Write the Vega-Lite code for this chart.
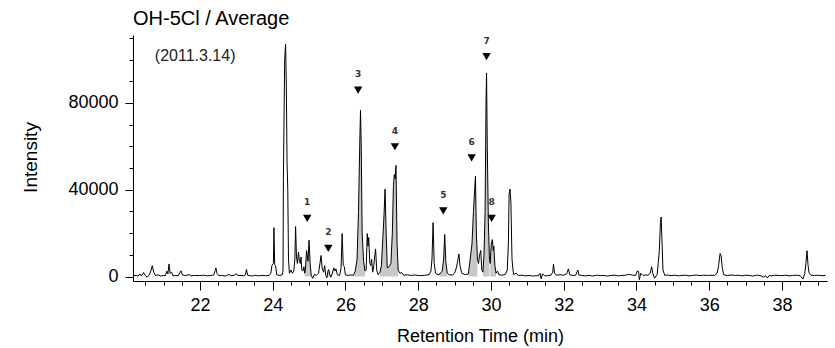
{
  "$schema": "https://vega.github.io/schema/vega-lite/v6.json",
  "width": 694,
  "height": 246,
  "autosize": {"type": "none"},
  "padding": {"left": 133, "top": 35, "right": 8, "bottom": 67},
  "background": "white",
  "config": {
    "view": {"stroke": null},
    "font": "Liberation Sans",
    "axis": {"domainColor": "#000", "tickColor": "#000", "labelColor": "#000", "titleColor": "#000", "grid": false, "titleFontWeight": "normal", "domainWidth": 1, "tickWidth": 1}
  },
  "title": {"text": "OH-5Cl / Average", "anchor": "start", "frame": "group", "font": "Liberation Sans", "fontSize": 20, "fontWeight": "normal", "color": "#000", "offset": 6},
  "datasets": {
    "trace": [
      {"t":20.17,"i":300},{"t":20.25,"i":500},{"t":20.3,"i":200},{"t":20.35,"i":1200},{"t":20.38,"i":300},{"t":20.42,"i":900},{"t":20.45,"i":1800},{"t":20.5,"i":400},{"t":20.55,"i":-300},{"t":20.6,"i":600},{"t":20.65,"i":2500},{"t":20.69,"i":5000},{"t":20.73,"i":2000},{"t":20.78,"i":500},{"t":20.85,"i":800},{"t":20.92,"i":200},{"t":21.0,"i":500},{"t":21.05,"i":400},{"t":21.09,"i":2500},{"t":21.12,"i":1200},{"t":21.15,"i":5800},{"t":21.18,"i":1500},{"t":21.22,"i":2000},{"t":21.26,"i":300},{"t":21.32,"i":500},{"t":21.4,"i":300},{"t":21.45,"i":1800},{"t":21.48,"i":2600},{"t":21.52,"i":700},{"t":21.6,"i":400},{"t":21.7,"i":900},{"t":21.75,"i":300},{"t":21.85,"i":500},{"t":22.0,"i":400},{"t":22.1,"i":600},{"t":22.2,"i":300},{"t":22.3,"i":500},{"t":22.38,"i":700},{"t":22.42,"i":2800},{"t":22.44,"i":3900},{"t":22.47,"i":1500},{"t":22.52,"i":400},{"t":22.6,"i":500},{"t":22.7,"i":200},{"t":22.8,"i":1000},{"t":22.85,"i":300},{"t":22.95,"i":600},{"t":23.0,"i":1300},{"t":23.04,"i":400},{"t":23.1,"i":500},{"t":23.2,"i":300},{"t":23.25,"i":800},{"t":23.28,"i":3300},{"t":23.31,"i":600},{"t":23.38,"i":400},{"t":23.45,"i":200},{"t":23.5,"i":600},{"t":23.6,"i":300},{"t":23.7,"i":500},{"t":23.8,"i":400},{"t":23.9,"i":500},{"t":23.95,"i":1500},{"t":23.98,"i":5200},{"t":24.02,"i":6000},{"t":24.035,"i":22500},{"t":24.055,"i":5500},{"t":24.08,"i":5000},{"t":24.11,"i":800},{"t":24.2,"i":500},{"t":24.27,"i":900},{"t":24.285,"i":3000},{"t":24.295,"i":45000},{"t":24.33,"i":100000},{"t":24.355,"i":107000},{"t":24.375,"i":88000},{"t":24.395,"i":53000},{"t":24.415,"i":40000},{"t":24.435,"i":8000},{"t":24.46,"i":1500},{"t":24.5,"i":3000},{"t":24.54,"i":1500},{"t":24.58,"i":2500},{"t":24.61,"i":8000},{"t":24.63,"i":23000},{"t":24.655,"i":9000},{"t":24.68,"i":6000},{"t":24.71,"i":11300},{"t":24.735,"i":7000},{"t":24.76,"i":6000},{"t":24.78,"i":9000},{"t":24.8,"i":3000},{"t":24.83,"i":2500},{"t":24.86,"i":4500},
      {"t":24.88,"i":1500,"g":"p1"},{"t":24.9,"i":3000,"g":"p1"},{"t":24.93,"i":12000,"g":"p1"},{"t":24.95,"i":10000,"g":"p1"},{"t":24.97,"i":7000,"g":"p1"},{"t":25.0,"i":16700,"g":"p1"},{"t":25.03,"i":6000,"g":"p1"},{"t":25.06,"i":600,"g":"p1"},
      {"t":25.1,"i":-800},{"t":25.15,"i":1000},{"t":25.2,"i":500},{"t":25.26,"i":1500},{"t":25.3,"i":6000},{"t":25.33,"i":9700},{"t":25.36,"i":4000},{"t":25.4,"i":2000},{"t":25.43,"i":5000},
      {"t":25.46,"i":500,"g":"p2"},{"t":25.49,"i":-600,"g":"p2"},{"t":25.52,"i":2500,"g":"p2"},{"t":25.54,"i":3200,"g":"p2"},{"t":25.57,"i":800,"g":"p2"},
      {"t":25.6,"i":-300},{"t":25.64,"i":1500},{"t":25.68,"i":4000},{"t":25.71,"i":2500},{"t":25.74,"i":3500},{"t":25.78,"i":800},{"t":25.84,"i":500},{"t":25.88,"i":4000},{"t":25.91,"i":19800},{"t":25.94,"i":5000},{"t":25.97,"i":4500},{"t":26.0,"i":800},{"t":26.08,"i":500},{"t":26.15,"i":700},
      {"t":26.22,"i":600,"g":"p3"},{"t":26.27,"i":2500,"g":"p3"},{"t":26.32,"i":8000,"g":"p3"},{"t":26.36,"i":30000,"g":"p3"},{"t":26.395,"i":62000,"g":"p3"},{"t":26.415,"i":76700,"g":"p3"},{"t":26.435,"i":60000,"g":"p3"},{"t":26.46,"i":20000,"g":"p3"},{"t":26.5,"i":7000,"g":"p3"},{"t":26.54,"i":2500,"g":"p3"},
      {"t":26.57,"i":3000},{"t":26.6,"i":19800},{"t":26.62,"i":14000},{"t":26.64,"i":18000},{"t":26.67,"i":6000},{"t":26.7,"i":5000},{"t":26.72,"i":8000},{"t":26.75,"i":2000},{"t":26.78,"i":5000},{"t":26.81,"i":10000},{"t":26.83,"i":12700},{"t":26.86,"i":3000},{"t":26.9,"i":800},
      {"t":26.95,"i":2000,"g":"p4"},{"t":26.99,"i":5000,"g":"p4"},{"t":27.03,"i":18000,"g":"p4"},{"t":27.06,"i":28000,"g":"p4"},{"t":27.09,"i":40300,"g":"p4"},{"t":27.12,"i":20000,"g":"p4"},{"t":27.15,"i":4000,"g":"p4"},{"t":27.2,"i":4500,"g":"p4"},{"t":27.25,"i":6000,"g":"p4"},{"t":27.29,"i":20000,"g":"p4"},{"t":27.32,"i":42000,"g":"p4"},{"t":27.345,"i":47000,"g":"p4"},{"t":27.37,"i":45000,"g":"p4"},{"t":27.39,"i":51200,"g":"p4"},{"t":27.42,"i":15000,"g":"p4"},{"t":27.45,"i":3000,"g":"p4"},
      {"t":27.5,"i":1500},{"t":27.55,"i":1800},{"t":27.6,"i":600},{"t":27.7,"i":800},{"t":27.8,"i":500},{"t":27.9,"i":700},{"t":28.0,"i":500},{"t":28.1,"i":400},{"t":28.2,"i":600},{"t":28.3,"i":800},{"t":28.35,"i":2500},{"t":28.38,"i":8000},{"t":28.41,"i":24800},{"t":28.44,"i":6000},{"t":28.48,"i":1500},{"t":28.55,"i":800},
      {"t":28.6,"i":1200,"g":"p5"},{"t":28.66,"i":2500,"g":"p5"},{"t":28.7,"i":8000,"g":"p5"},{"t":28.73,"i":19400,"g":"p5"},{"t":28.76,"i":7000,"g":"p5"},{"t":28.8,"i":1500,"g":"p5"},
      {"t":28.85,"i":800},{"t":28.95,"i":700},{"t":29.0,"i":1500},{"t":29.05,"i":4000},{"t":29.08,"i":6500},{"t":29.12,"i":10400},{"t":29.15,"i":5000},{"t":29.2,"i":1500},{"t":29.3,"i":800},
      {"t":29.38,"i":1200,"g":"p6"},{"t":29.43,"i":8000,"g":"p6"},{"t":29.48,"i":15000,"g":"p6"},{"t":29.52,"i":30000,"g":"p6"},{"t":29.55,"i":39000,"g":"p6"},{"t":29.575,"i":46200,"g":"p6"},{"t":29.6,"i":20000,"g":"p6"},{"t":29.63,"i":8000,"g":"p6"},
      {"t":29.66,"i":6000},{"t":29.69,"i":10000},{"t":29.72,"i":12000},{"t":29.75,"i":3000},
      {"t":29.78,"i":2000,"g":"p7"},{"t":29.81,"i":10000,"g":"p7"},{"t":29.84,"i":30000,"g":"p7"},{"t":29.865,"i":80000,"g":"p7"},{"t":29.88,"i":93800,"g":"p7"},{"t":29.9,"i":60000,"g":"p7"},{"t":29.93,"i":25000,"g":"p7"},{"t":29.96,"i":8000,"g":"p7"},
      {"t":29.98,"i":6000,"g":"p8"},{"t":30.01,"i":15000,"g":"p8"},{"t":30.04,"i":17000,"g":"p8"},{"t":30.065,"i":12000,"g":"p8"},{"t":30.08,"i":14000,"g":"p8"},{"t":30.11,"i":5000,"g":"p8"},{"t":30.14,"i":1500,"g":"p8"},
      {"t":30.18,"i":2500},{"t":30.22,"i":800},{"t":30.3,"i":600},{"t":30.4,"i":1000},{"t":30.45,"i":3000},{"t":30.48,"i":15000},{"t":30.5,"i":38000},{"t":30.525,"i":40300},{"t":30.55,"i":34000},{"t":30.58,"i":8000},{"t":30.62,"i":1000},{"t":30.7,"i":1500},{"t":30.75,"i":500},{"t":30.85,"i":600},{"t":30.95,"i":300},{"t":31.05,"i":500},{"t":31.15,"i":200},{"t":31.25,"i":400},{"t":31.3,"i":300},{"t":31.35,"i":1500},{"t":31.38,"i":-1000},{"t":31.42,"i":1200},{"t":31.48,"i":300},{"t":31.55,"i":400},{"t":31.65,"i":600},{"t":31.7,"i":2000},{"t":31.72,"i":5700},{"t":31.75,"i":1500},{"t":31.8,"i":600},{"t":31.9,"i":800},{"t":32.0,"i":600},{"t":32.08,"i":1200},{"t":32.13,"i":3500},{"t":32.17,"i":800},{"t":32.25,"i":500},{"t":32.33,"i":600},{"t":32.39,"i":3000},{"t":32.42,"i":700},{"t":32.5,"i":500},{"t":32.6,"i":300},{"t":32.7,"i":500},{"t":32.8,"i":200},{"t":32.9,"i":600},{"t":33.0,"i":400},{"t":33.1,"i":500},{"t":33.2,"i":200},{"t":33.3,"i":500},{"t":33.4,"i":600},{"t":33.5,"i":300},{"t":33.6,"i":500},{"t":33.7,"i":600},{"t":33.8,"i":1000},{"t":33.9,"i":600},{"t":33.98,"i":500},{"t":34.02,"i":2500},{"t":34.06,"i":2300},{"t":34.08,"i":-1500},{"t":34.12,"i":1500},{"t":34.18,"i":500},{"t":34.25,"i":700},{"t":34.32,"i":600},{"t":34.38,"i":1500},{"t":34.42,"i":4500},{"t":34.45,"i":1500},{"t":34.5,"i":-800},{"t":34.57,"i":1000},{"t":34.6,"i":6000},{"t":34.63,"i":12000},{"t":34.66,"i":25000},{"t":34.68,"i":27400},{"t":34.7,"i":18000},{"t":34.73,"i":3000},{"t":34.78,"i":500},{"t":34.85,"i":700},{"t":34.95,"i":400},{"t":35.05,"i":600},{"t":35.15,"i":300},{"t":35.25,"i":500},{"t":35.35,"i":600},{"t":35.45,"i":300},{"t":35.55,"i":500},{"t":35.65,"i":700},{"t":35.75,"i":400},{"t":35.85,"i":600},{"t":35.95,"i":500},{"t":36.05,"i":600},{"t":36.15,"i":500},{"t":36.22,"i":1500},{"t":36.26,"i":5000},{"t":36.3,"i":10600},{"t":36.33,"i":9500},{"t":36.36,"i":4000},{"t":36.4,"i":800},{"t":36.5,"i":400},{"t":36.6,"i":700},{"t":36.7,"i":500},{"t":36.8,"i":600},{"t":36.9,"i":300},{"t":37.0,"i":600},{"t":37.1,"i":500},{"t":37.2,"i":200},{"t":37.3,"i":600},{"t":37.4,"i":500},{"t":37.5,"i":-300},{"t":37.55,"i":400},{"t":37.6,"i":-700},{"t":37.65,"i":500},{"t":37.7,"i":300},{"t":37.8,"i":600},{"t":37.9,"i":500},{"t":38.0,"i":400},{"t":38.1,"i":600},{"t":38.2,"i":300},{"t":38.3,"i":500},{"t":38.4,"i":600},{"t":38.5,"i":400},{"t":38.58,"i":-1200},{"t":38.63,"i":1500},{"t":38.66,"i":6000},{"t":38.69,"i":11900},{"t":38.72,"i":5000},{"t":38.75,"i":1500},{"t":38.8,"i":600},{"t":38.9,"i":500},{"t":39.0,"i":600},{"t":39.1,"i":400},{"t":39.2,"i":500}
    ],
    "marks": [
      {"t":24.95,"i":26800,"n":"1"},{"t":25.53,"i":13000,"n":"2"},{"t":26.35,"i":85900,"n":"3"},{"t":27.36,"i":59800,"n":"4"},{"t":28.69,"i":30200,"n":"5"},{"t":29.47,"i":54700,"n":"6"},{"t":29.88,"i":101300,"n":"7"},{"t":30.02,"i":26800,"n":"8"}
    ],
    "notes": [{"t":20.76,"i":101600,"txt":"(2011.3.14)"}]
  },
  "resolve": {"axis": {"x": "independent", "y": "independent"}},
  "layer": [
    {
      "data": {"name": "trace"},
      "transform": [{"filter": "datum.g != null"}],
      "mark": {"type": "area", "color": "#c8c8c8", "clip": true},
      "encoding": {
        "x": {"field": "t", "type": "quantitative", "scale": {"domain": [20.16, 39.24], "nice": false, "zero": false},
              "axis": {"orient": "bottom", "values": [20.5,21,21.5,22,22.5,23,23.5,24,24.5,25,25.5,26,26.5,27,27.5,28,28.5,29,29.5,30,30.5,31,31.5,32,32.5,33,33.5,34,34.5,35,35.5,36,36.5,37,37.5,38,38.5,39], "tickSize": 4, "labels": false, "domain": false, "title": null}},
        "y": {"field": "i", "type": "quantitative", "stack": null, "scale": {"domain": [-2070, 111300], "nice": false, "zero": false},
              "axis": {"orient": "left", "values": [0,10000,20000,30000,40000,50000,60000,70000,80000,90000,100000,110000], "tickSize": 4, "labels": false, "domain": false, "title": null}},
        "detail": {"field": "g"}
      }
    },
    {
      "data": {"name": "trace"},
      "mark": {"type": "line", "color": "#000", "strokeWidth": 1, "clip": true, "interpolate": "linear"},
      "encoding": {
        "x": {"field": "t", "type": "quantitative", "scale": {"domain": [20.16, 39.24], "nice": false, "zero": false},
              "axis": {"orient": "bottom", "values": [22,24,26,28,30,32,34,36,38], "tickSize": 9, "labelFont": "Liberation Sans", "labelFontSize": 18, "labelPadding": 6, "title": "Retention Time (min)", "titleFont": "Liberation Sans", "titleFontSize": 18, "titleX": 347, "titleY": 55, "titleBaseline": "middle"}},
        "y": {"field": "i", "type": "quantitative", "scale": {"domain": [-2070, 111300], "nice": false, "zero": false},
              "axis": {"orient": "left", "values": [0,40000,80000], "format": "d", "tickSize": 8, "labelFont": "Liberation Sans", "labelFontSize": 18, "labelPadding": 7, "title": "Intensity", "titleFont": "Liberation Sans", "titleFontSize": 19, "titleX": -103, "titleY": 122, "titleBaseline": "middle", "titleAngle": -90}},
        "order": {"field": "t", "type": "quantitative"}
      }
    },
    {
      "data": {"name": "marks"},
      "mark": {"type": "point", "shape": "triangle-down", "filled": true, "color": "#000", "size": 70, "opacity": 1},
      "encoding": {
        "x": {"field": "t", "type": "quantitative", "axis": null},
        "y": {"field": "i", "type": "quantitative", "axis": null}
      }
    },
    {
      "data": {"name": "marks"},
      "mark": {"type": "text", "font": "DejaVu Sans", "fontSize": 9, "fontWeight": "bold", "color": "#333", "dy": -16, "baseline": "middle", "align": "center"},
      "encoding": {
        "x": {"field": "t", "type": "quantitative", "axis": null},
        "y": {"field": "i", "type": "quantitative", "axis": null},
        "text": {"field": "n"}
      }
    },
    {
      "data": {"name": "notes"},
      "mark": {"type": "text", "font": "Liberation Sans", "fontSize": 16, "color": "#222", "align": "left", "baseline": "middle"},
      "encoding": {
        "x": {"field": "t", "type": "quantitative", "axis": null},
        "y": {"field": "i", "type": "quantitative", "axis": null},
        "text": {"field": "txt"}
      }
    }
  ]
}
